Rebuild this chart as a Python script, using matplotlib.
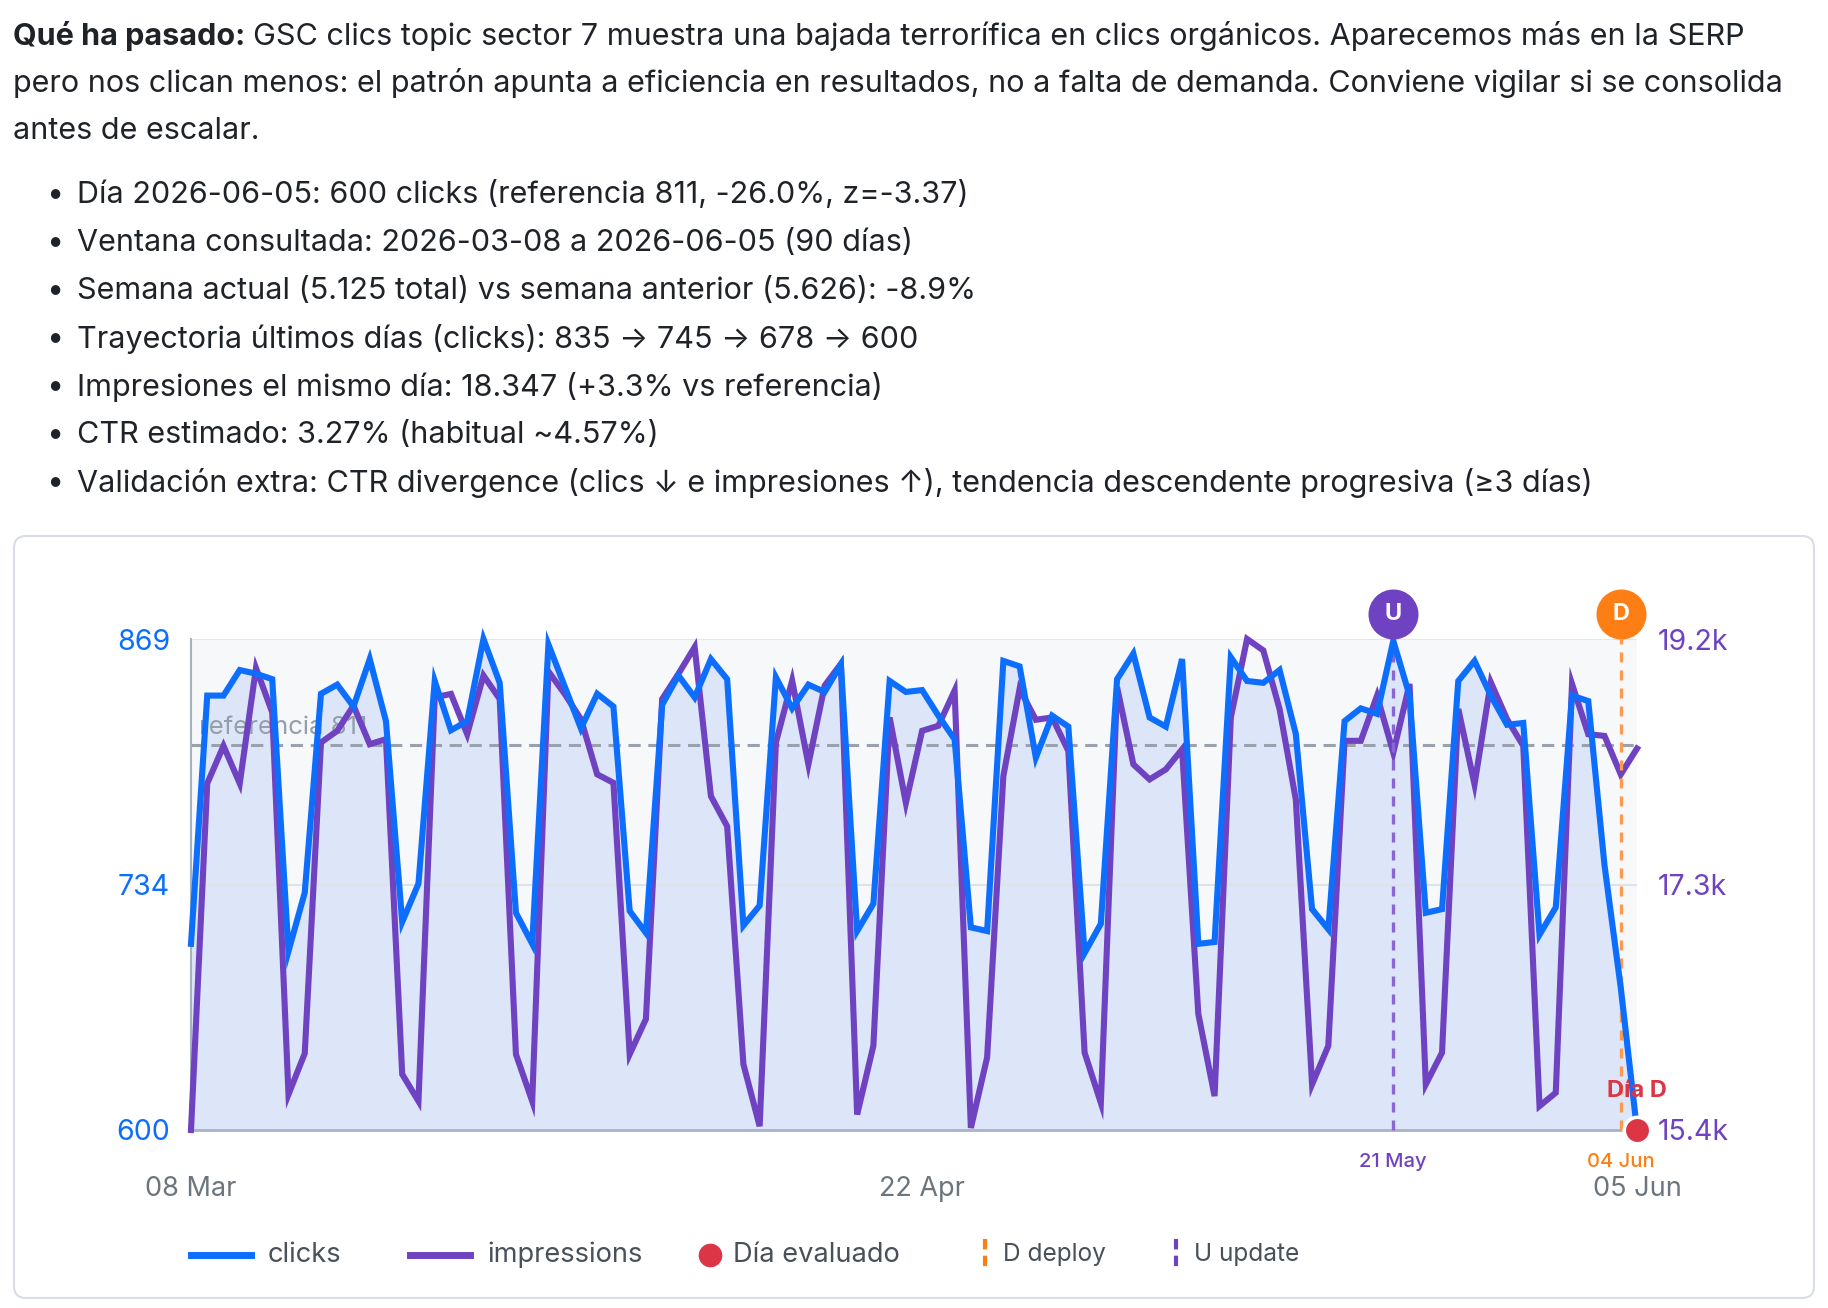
import numpy as np
import pandas as pd
import matplotlib
matplotlib.use("Agg")
import matplotlib.pyplot as plt
import matplotlib.dates as mdates
import matplotlib.transforms as mtransforms
from matplotlib.lines import Line2D
from matplotlib.patches import FancyBboxPatch

plt.rcParams['font.family'] = ['Inter', 'DejaVu Sans']

# --- datos ---
dates = pd.date_range("2026-03-08", "2026-06-05", freq="D")

clicks = [702, 838, 838, 852, 850, 847, 698, 730, 839, 844,
          832, 858, 824, 714, 735, 846, 819, 824, 869, 845,
          719, 702, 866, 843, 820, 839, 832, 720, 708, 833,
          849, 837, 858, 847, 712, 723, 848, 831, 844, 840,
          855, 709, 724, 846, 840, 841, 827, 814, 711, 709,
          857, 854, 804, 827, 821, 697, 713, 847, 861, 826,
          821, 858, 702, 703, 859, 846, 845, 852, 817, 721,
          710, 824, 831, 828, 868, 838, 719, 721, 846, 857,
          838, 822, 823, 707, 722, 838, 835, 745, 678, 600]

impressions = [15410, 18078, 18367, 18078, 18966, 18625, 15684, 15999, 18393, 18483,
               18677, 18380, 18419, 15839, 15632, 18741, 18767, 18457, 18909, 18728,
               15993, 15632, 18940, 18767, 18573, 18148, 18083, 15993, 16264, 18728,
               18922, 19128, 17980, 17748, 15916, 15439, 18393, 18870, 18225, 18831,
               18999, 15529, 16058, 18586, 17928, 18483, 18522, 18793, 15426, 15968,
               18135, 18806, 18568, 18586, 18328, 16006, 15619, 18819, 18225, 18109,
               18186, 18341, 16303, 15671, 18586, 19190, 19102, 18651, 17954, 15761,
               16058, 18406, 18406, 18754, 18315, 18844, 15761, 16006, 18651, 18071,
               18857, 18573, 18367, 15594, 15697, 18844, 18457, 18444, 18148, 18347]

referencia = 811
update_day = "2026-05-21"
deploy_day = "2026-06-04"
xtick_days = ["2026-03-08", "2026-04-22", "2026-06-05"]

header_bold = "Qué ha pasado:"
header_lines = [
    "GSC clics topic sector 7 muestra una bajada terrorífica en clics orgánicos. Aparecemos más en la SERP",
    "pero nos clican menos: el patrón apunta a eficiencia en resultados, no a falta de demanda. Conviene vigilar si se consolida",
    "antes de escalar.",
]
bullets = [
    "Día 2026-06-05: 600 clicks (referencia 811, -26.0%, z=-3.37)",
    "Ventana consultada: 2026-03-08 a 2026-06-05 (90 días)",
    "Semana actual (5.125 total) vs semana anterior (5.626): -8.9%",
    "Trayectoria últimos días (clicks): 835 → 745 → 678 → 600",
    "Impresiones el mismo día: 18.347 (+3.3% vs referencia)",
    "CTR estimado: 3.27% (habitual ~4.57%)",
    "Validación extra: CTR divergence (clics ↓ e impresiones ↑), tendencia descendente progresiva (≥3 días)",
]

BLUE = "#0d6efd"
PURPLE = "#6f42c1"
RED = "#dc3545"
ORANGE = "#fd7e14"
TEXT = "#1f2328"
GREY = "#6c757d"

W, H = 1828, 1308
fig = plt.figure(figsize=(W / 100, H / 100), dpi=100)
renderer = fig.canvas.get_renderer()


def fx(x):
    return x / W


def fy(y):
    return 1 - y / H


BODY_FS = 22

# texto de cabecera
t = fig.text(fx(13), fy(36), header_bold, fontsize=BODY_FS, fontweight="bold",
             color=TEXT, va="center")
bw = t.get_window_extent(renderer).width
fig.text(fx(13 + bw + 8), fy(36), header_lines[0], fontsize=BODY_FS, color=TEXT, va="center")
fig.text(fx(13), fy(83), header_lines[1], fontsize=BODY_FS, color=TEXT, va="center")
fig.text(fx(13), fy(131), header_lines[2], fontsize=BODY_FS, color=TEXT, va="center")

for i, b in enumerate(bullets):
    y = 195 + i * 48
    fig.text(fx(55), fy(y), "•", fontsize=BODY_FS, color=TEXT, va="center", ha="center")
    fig.text(fx(77), fy(y), b, fontsize=BODY_FS, color=TEXT, va="center")

# caja del grafico
box = FancyBboxPatch((14, H - 1298), 1800, 762, boxstyle="round,pad=0,rounding_size=12",
                     fc="white", ec="#d8dee4", lw=1.5, zorder=-1,
                     transform=mtransforms.IdentityTransform())
fig.add_artist(box)

# ejes
ax = fig.add_axes([fx(191), fy(1130), (1637 - 191) / W, (1130 - 639) / H])
ax.set_facecolor("#f6f8fa")
ax.set_xlim(dates[0], dates[-1])
c_lo, c_hi = min(clicks), max(clicks)
ax.set_ylim(c_lo, c_hi)
ax.fill_between(dates, clicks, c_lo, color="#dce6f8", lw=0, zorder=1)
ax.axhline(c_hi, color="#e3e6ea", lw=1.5, zorder=1.5)
ax.axhline((c_lo + c_hi) / 2, color="#dfe3e8", lw=1.5, zorder=1.5)
ax.axhline(referencia, color="#99a1ad", lw=2.2, dashes=(4, 2.5), zorder=2)
ax.annotate(f"referencia {referencia}", xy=(mdates.date2num(dates[0]), referencia),
            xytext=(6, 4), textcoords="offset points", va="bottom", ha="left",
            color="#959eaa", fontsize=18.5, zorder=1.8)

for s in ["top", "right"]:
    ax.spines[s].set_visible(False)
ax.spines["left"].set_color("#aab2bd")
ax.spines["left"].set_linewidth(1.5)
ax.spines["bottom"].set_color("#a8b3c7")
ax.spines["bottom"].set_linewidth(2)

cticks = [c_lo, (c_lo + c_hi) / 2, c_hi]
ax.set_yticks(cticks)
ax.set_yticklabels([f"{v:.0f}" for v in cticks])
ax.tick_params(axis="y", length=0, pad=15, labelcolor=BLUE, labelsize=20.5)
xt = pd.to_datetime(xtick_days)
ax.set_xticks(xt)
ax.set_xticklabels([d.strftime("%d %b") for d in xt])
ax.tick_params(axis="x", length=0, pad=33, labelcolor=GREY, labelsize=19.5)

# impresiones
axi = ax.twinx()
i_lo, i_hi = min(impressions), max(impressions)
axi.set_ylim(i_lo, i_hi)
axi.plot(dates, impressions, color=PURPLE, lw=4.4, clip_on=False, solid_joinstyle="miter")
iticks = [i_lo, (i_lo + i_hi) / 2, i_hi]
axi.set_yticks(iticks)
axi.set_yticklabels([f"{v / 1000:.1f}k" for v in iticks])
axi.tick_params(axis="y", length=0, pad=15, labelcolor=PURPLE, labelsize=20.5)
for s in axi.spines.values():
    s.set_visible(False)

# clicks encima
axc = ax.twinx()
axc.set_ylim(c_lo, c_hi)
axc.set_yticks([])
for s in axc.spines.values():
    s.set_visible(False)
axc.plot(dates, clicks, color=BLUE, lw=4.4, clip_on=False, solid_joinstyle="miter", zorder=3)

trans = mtransforms.blended_transform_factory(axc.transData, axc.transAxes)
for day, letter, col, lcol in [(update_day, "U", PURPLE, "#8a66d4"),
                               (deploy_day, "D", ORANGE, "#fd9a4d")]:
    d = pd.Timestamp(day)
    dn = mdates.date2num(d)
    axc.plot([dn, dn], [0, 1], transform=trans, color=lcol, lw=2.4, dashes=(3, 2.4),
             clip_on=False, zorder=2)
    axc.plot([dn], [1 + 25 / 491], "o", ms=35, color=col, transform=trans,
             clip_on=False, zorder=6)
    axc.text(dn, 1 + 25 / 491, letter, transform=trans, ha="center", va="center",
             color="white", fontweight="bold", fontsize=17, zorder=7)
    axc.annotate(d.strftime("%d %b"), xy=(dn, 0), xycoords=trans, xytext=(0, -23),
                 textcoords="offset points", ha="center", va="center",
                 color=col, fontsize=14.5, fontweight="medium")

last = mdates.date2num(dates[-1])
axc.plot([last], [clicks[-1]], "o", ms=19, mfc=RED, mec="white", mew=2.5,
         clip_on=False, zorder=8)
axc.annotate("Día D", xy=(last, 0), xycoords=trans, xytext=(0, 28),
             textcoords="offset points", ha="center", va="center",
             color=RED, fontsize=17, fontweight="bold", zorder=8)

# leyenda
ly = fy(1255)
fig.add_artist(Line2D([fx(191), fx(251)], [ly, ly], color=BLUE, lw=5))
fig.text(fx(268), ly, "clicks", fontsize=19.6, color="#495057", va="center")
fig.add_artist(Line2D([fx(410), fx(470)], [ly, ly], color=PURPLE, lw=5))
fig.text(fx(487), ly, "impressions", fontsize=19.6, color="#495057", va="center")
fig.add_artist(Line2D([fx(710)], [ly], marker="o", ms=16, color=RED, lw=0))
fig.text(fx(733), ly, "Día evaluado", fontsize=19.6, color="#495057", va="center")
fig.add_artist(Line2D([fx(985), fx(985)], [fy(1239), fy(1271)], color=ORANGE, lw=3,
                      dashes=(2.5, 1.5)))
fig.text(fx(1003), ly, "D deploy", fontsize=17.6, color="#495057", va="center")
fig.add_artist(Line2D([fx(1176), fx(1176)], [fy(1239), fy(1271)], color=PURPLE, lw=3,
                      dashes=(2.5, 1.5)))
fig.text(fx(1194), ly, "U update", fontsize=17.6, color="#495057", va="center")

fig.savefig("out.png", dpi=100)
